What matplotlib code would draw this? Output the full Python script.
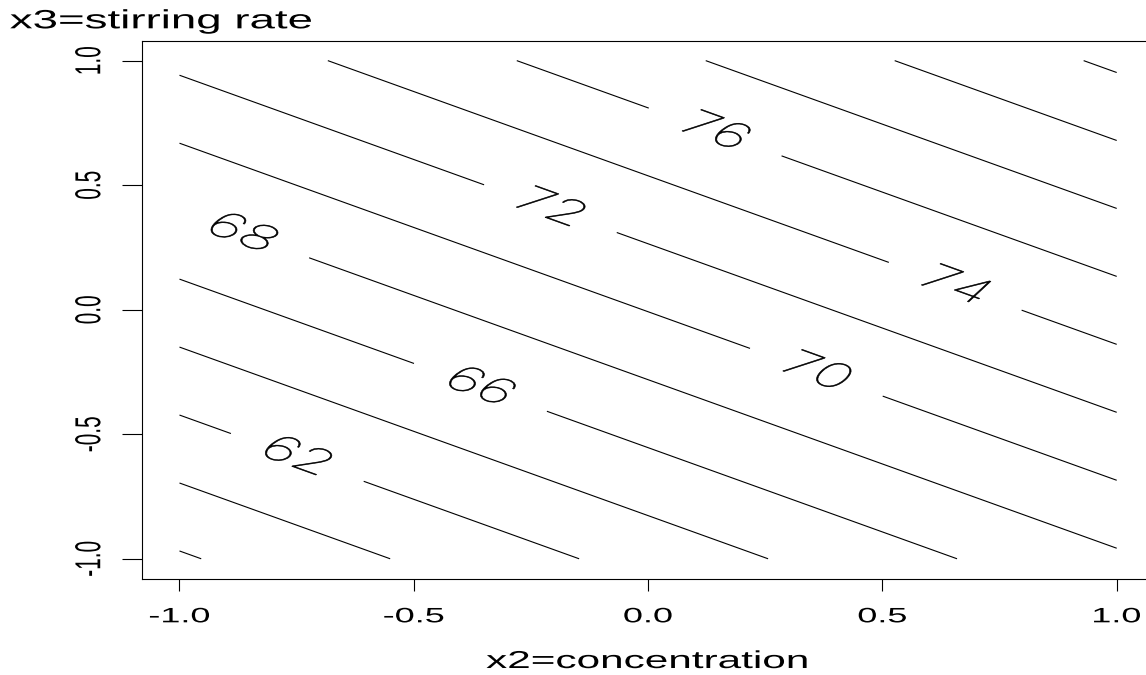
import numpy as np
import matplotlib
matplotlib.use("Agg")
import matplotlib.pyplot as plt
from matplotlib import font_manager as fm
from matplotlib.font_manager import FontProperties
from matplotlib.patheffects import AbstractPathEffect
from matplotlib.transforms import Affine2D

# ---------------- data ----------------
# fitted first-order response surface: yield = b0 + b2*x2 + b3*x3
intercept = 70.06
coef_x2 = 4.96
coef_x3 = 7.33
x2_values = np.linspace(-1.0, 1.0, 21)
x3_values = np.linspace(-1.0, 1.0, 21)
contour_levels = [58, 60, 62, 64, 66, 68, 70, 72, 74, 76, 78, 80, 82]
label_levels = [62, 66, 68, 70, 72, 74, 76]
label_x2 = [-0.748, -0.358, -0.866, 0.361, -0.208, 0.655, 0.143]
label_x3 = [-0.590, -0.313, 0.300, -0.241, 0.408, 0.092, 0.713]
tick_values = [-1.0, -0.5, 0.0, 0.5, 1.0]
tick_labels = ["-1.0", "-0.5", "0.0", "0.5", "1.0"]
x_label = "x2=concentration"
y_label = "x3=stirring rate"

# the reference image is horizontally stretched; reproduce this on text
SX = 1.73


class Stretch(AbstractPathEffect):
    """Draw text stretched horizontally (display space) about an anchor."""

    def __init__(self, sx=SX, anchor=0.5, local_sx=1.0, stroke=0.0):
        super().__init__()
        self.sx = sx
        self.anchor = anchor
        self.local_sx = local_sx
        self.stroke = stroke

    def draw_path(self, renderer, gc, tpath, affine, rgbFace=None):
        aff = affine
        if self.local_sx != 1.0:
            e = tpath.get_extents()
            cx = 0.5 * (e.x0 + e.x1)
            aff = Affine2D().translate(-cx, 0).scale(self.local_sx, 1).translate(cx, 0) + affine
        d = tpath.transformed(aff).get_extents()
        X = d.x0 + self.anchor * (d.x1 - d.x0)
        aff = aff + Affine2D().translate(-X, 0).scale(self.sx, 1).translate(X, 0)
        if self.stroke > 0 and rgbFace is not None:
            gc0 = renderer.new_gc()
            gc0.copy_properties(gc)
            gc0.set_linewidth(self.stroke)
            gc0.set_foreground(rgbFace)
            renderer.draw_path(gc0, tpath, aff, rgbFace)
            gc0.restore()
        else:
            renderer.draw_path(gc, tpath, aff, rgbFace)


def thin_font():
    order = ["Roboto", "Lato", "Open Sans", "Inter", "Noto Sans", "DejaVu Sans"]
    cands = []
    for f in fm.fontManager.ttflist:
        if f.name in order and f.style == "normal" and str(f.stretch) == "normal":
            w = f.weight
            if not isinstance(w, (int, float)):
                w = fm.weight_dict.get(str(w), 400)
            cands.append((w, order.index(f.name), f.fname))
    cands.sort()
    return cands[0][2] if cands else None


plt.rcParams["font.family"] = ["Liberation Sans", "DejaVu Sans"]
plt.rcParams["axes.unicode_minus"] = False

fig = plt.figure(figsize=(11.46, 6.75), dpi=100)
ax = fig.add_axes([142 / 1146, 96.3 / 675, 1012.2 / 1146, 538 / 675])

X2, X3 = np.meshgrid(x2_values, x3_values)
Z = intercept + coef_x2 * X2 + coef_x3 * X3
cs = ax.contour(X2, X3, Z, levels=contour_levels, colors="black", linewidths=0.8)
ax.set_xlim(-1.08, 1.08)
ax.set_ylim(-1.08, 1.08)

# labels placed at the positions (one per labelled level)
labels = ax.clabel(cs, manual=list(zip(label_x2, label_x3)),
                   inline=True, inline_spacing=52, fontsize=24, fmt="%d")
thin = thin_font()
for t in labels:
    ang = np.deg2rad(t.get_rotation())
    new_ang = np.rad2deg(np.arctan(np.tan(ang) * SX))
    t.set_rotation(new_ang)
    if thin:
        t.set_fontproperties(FontProperties(fname=thin, size=24))
    t.set_color("black")
    t.set_path_effects([Stretch(SX, 0.5, 1.12, stroke=0.45)])

ax.set_xticks(tick_values, tick_labels)
ax.set_yticks(tick_values, tick_labels)
ax.tick_params(axis="x", length=8.6, width=0.8, pad=12, labelsize=15, colors="black")
ax.tick_params(axis="y", length=14.4, width=0.8, pad=12.7, labelsize=15,
               labelrotation=90, colors="black")
for t in ax.get_xticklabels():
    t.set_path_effects([Stretch(SX, 0.5)])
for t in ax.get_yticklabels():
    t.set_va("center")
    t.set_path_effects([Stretch(SX, 1.0)])

for s in ax.spines.values():
    s.set_linewidth(0.8)
    s.set_color("black")

ax.set_xlabel(x_label, fontsize=17.6)
ax.xaxis.label.set_va("baseline")
ax.xaxis.set_label_coords(0.4989, -0.166)
ax.xaxis.label.set_path_effects([Stretch(SX, 0.5)])

fig.text(10 / 1146, (675 - 28.3) / 675, y_label, fontsize=19, ha="left",
         va="baseline", path_effects=[Stretch(SX, 0.0)])

fig.savefig("out.png", dpi=100, facecolor="white")
